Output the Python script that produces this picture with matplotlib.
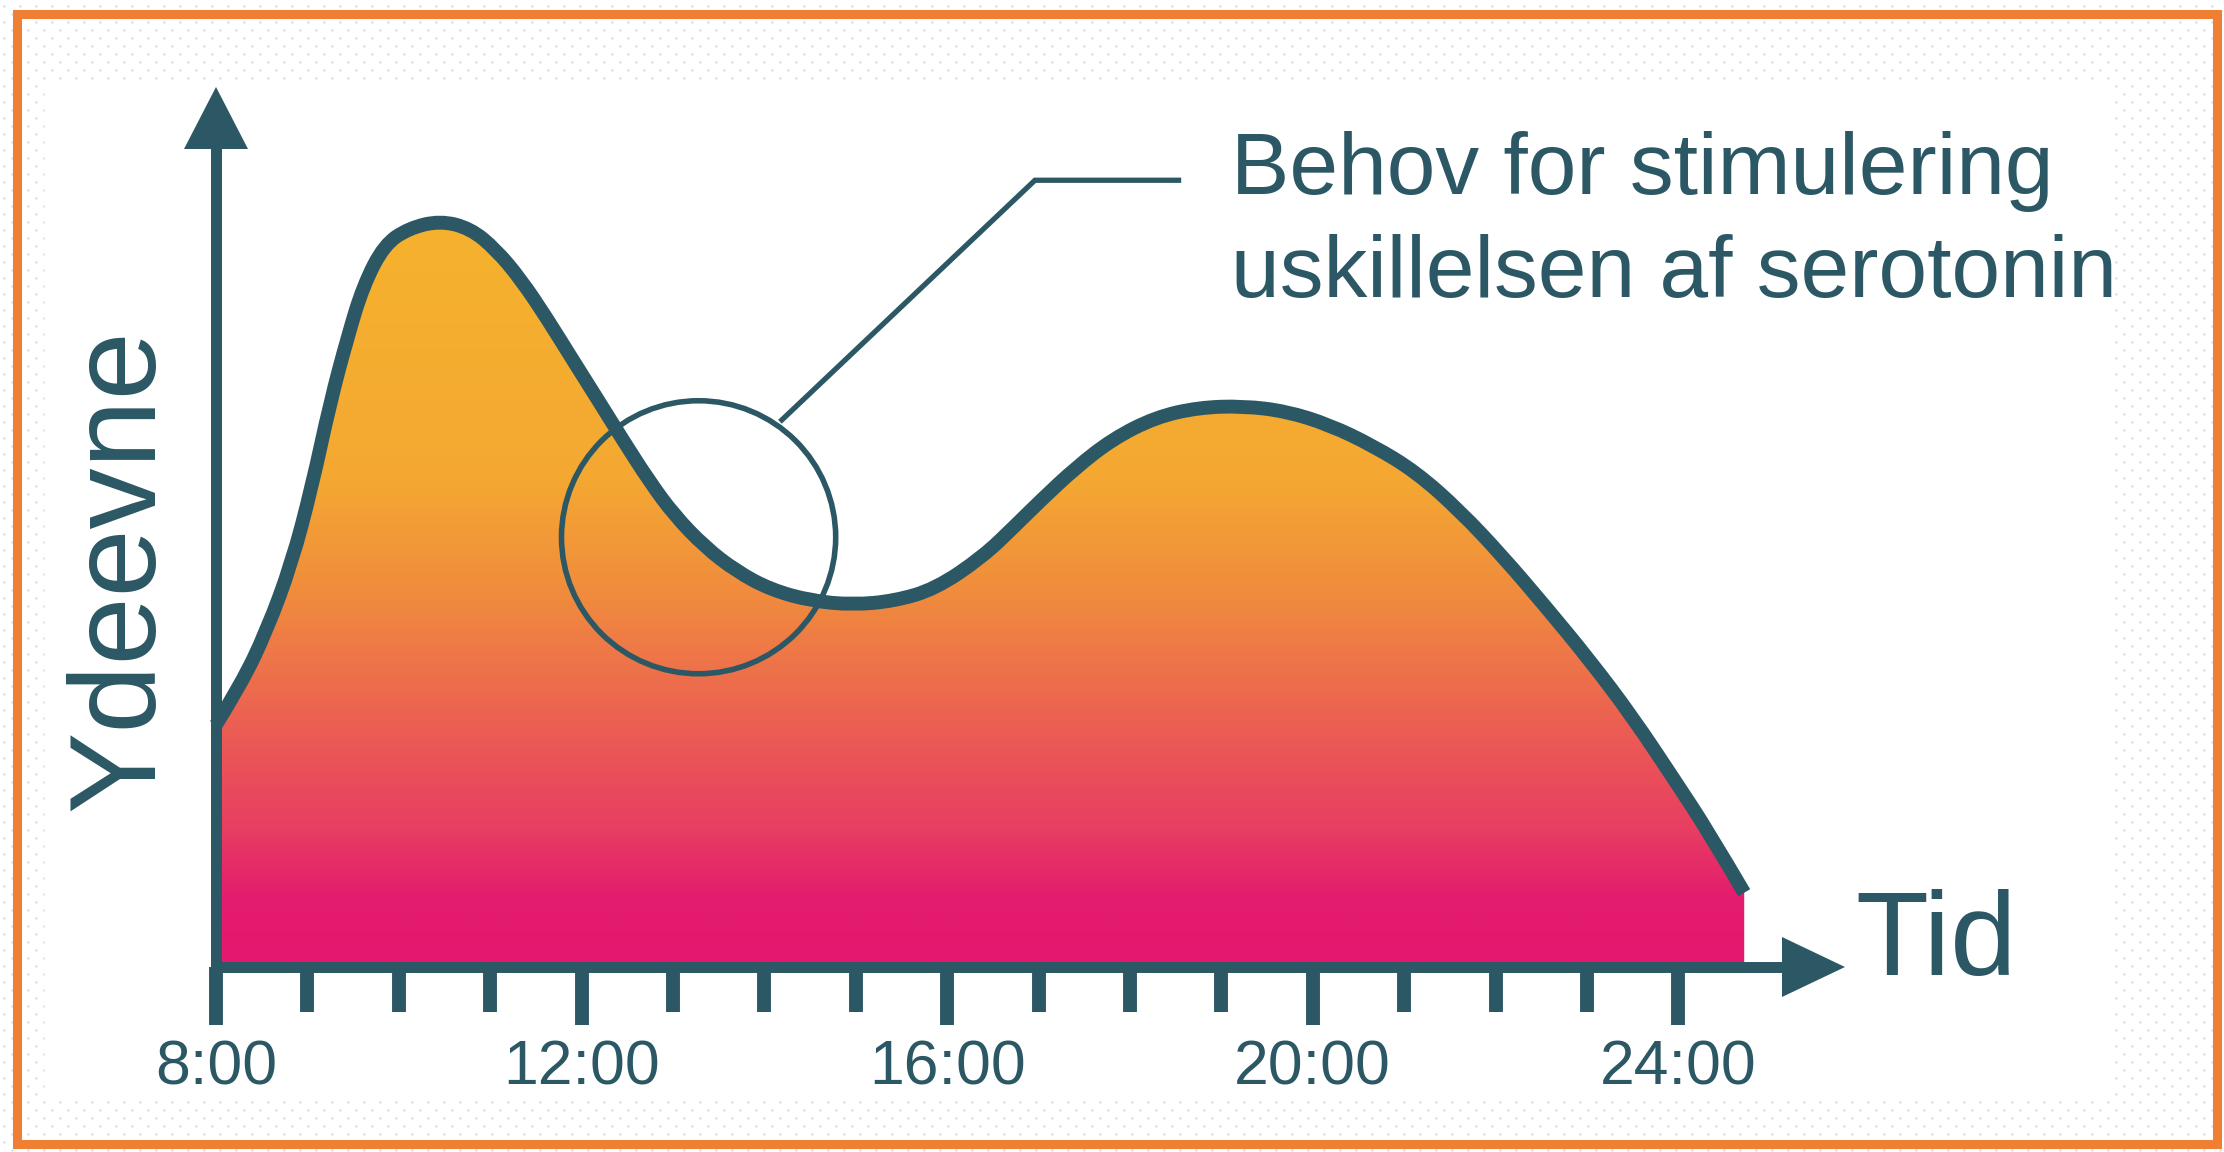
import numpy as np
import matplotlib
matplotlib.use('Agg')
import matplotlib.pyplot as plt
from matplotlib.colors import LinearSegmentedColormap
from matplotlib.patches import Polygon, Ellipse, Rectangle, PathPatch
from matplotlib.path import Path

plt.rcParams['font.family'] = ['Liberation Sans', 'DejaVu Sans']

# ---------------- data ----------------
hours = [8.00, 8.27, 8.55, 8.83, 9.05, 9.25, 9.44, 9.61, 9.84, 10.11, 10.45,
         10.78, 11.06, 11.34, 11.62, 11.89, 12.18, 12.45, 12.74, 13.01, 13.35,
         13.69, 14.07, 14.52, 14.97, 15.42, 15.87, 16.39, 16.74, 17.04, 17.40,
         17.81, 18.28, 18.75, 19.24, 19.71, 20.18, 20.66, 21.13, 21.61, 22.08,
         22.55, 23.03, 23.50, 23.97, 24.33, 24.72]
performance = [32.3, 37.6, 44.7, 53.9, 64.1, 75.3, 84.0, 90.8, 96.3, 98.5, 99.5,
               98.5, 95.7, 91.6, 86.5, 81.2, 75.6, 70.3, 64.8, 60.3, 56.0,
               52.8, 50.3, 48.8, 48.3, 48.8, 50.4, 54.7, 58.8, 62.4, 66.5,
               70.4, 73.3, 74.6, 74.8, 74.1, 72.3, 69.5, 66.0, 60.8, 54.7,
               48.0, 40.9, 33.3, 24.7, 18.0, 9.9]

major_hours = [8, 12, 16, 20, 24]
major_labels = ['8:00', '12:00', '16:00', '20:00', '24:00']
minor_hours = [9, 10, 11, 13, 14, 15, 17, 18, 19, 21, 22, 23]

x_label = 'Tid'
y_label = 'Ydeevne'
note_lines = ['Behov for stimulering', 'uskillelsen af serotonin']

# callout (circle + leader line) in data units
circle_center = (13.28, 57.3)
circle_size = (3.0, 36.4)
leader_h = [14.17, 16.96, 18.56]
leader_v = [72.7, 104.9, 104.9]
note_pos = [(19.10, 103.1), (19.10, 89.3)]

# ---------------- styles ----------------
TEAL = '#2b5864'
ORANGE_BORDER = '#ee7f33'
grad_stops = [(0.00, '#e4186f'), (0.09, '#e41c6e'), (0.18, '#e73d62'),
              (0.33, '#ec6152'), (0.49, '#f08a3e'), (0.65, '#f4a832'),
              (1.00, '#f6b22d')]
cmap = LinearSegmentedColormap.from_list('perf', grad_stops)

W, H = 2224, 1152
fig = plt.figure(figsize=(W / 100, H / 100), dpi=100)
fig.patch.set_facecolor('white')

# background: dotted paper, white picture, orange frame
bg = fig.add_axes([0, 0, 1, 1], zorder=0)
bg.set_xlim(0, W)
bg.set_ylim(H, 0)
bg.axis('off')
rows = np.arange(6, H, 8)
dx, dy = [], []
for i, yy in enumerate(rows):
    xs = np.arange(4 + (8 if i % 2 else 0), W, 16)
    dx.append(xs)
    dy.append(np.full(xs.shape, yy))
bg.scatter(np.concatenate(dx), np.concatenate(dy), s=3.2, color='#d3deeb', linewidths=0)
bg.add_patch(Rectangle((45, 80), 2112 - 45, 1098 - 80, facecolor='white', edgecolor='none'))
bg.add_patch(Rectangle((17, 14), 2200, 1130, fill=False, edgecolor=ORANGE_BORDER, lw=6.5))

# main axes placed where the chart axes are
AX_L, AX_R, AX_TOP, AX_BOT = 216, 1784, 147, 967
ax = fig.add_axes([AX_L / W, (H - AX_BOT) / H, (AX_R - AX_L) / W, (AX_BOT - AX_TOP) / H], zorder=1)
ax.set_facecolor('none')
ax.set_xlim(8, 8 + (AX_R - AX_L) / 91.4)
ax.set_ylim(0, (AX_BOT - AX_TOP) / 7.5)

# smooth curve path: data points used as quadratic Bezier control points
pts = np.column_stack([hours, performance])
verts = [tuple(pts[0])]
codes = [Path.MOVETO]
for i in range(1, len(pts) - 1):
    end = pts[-1] if i == len(pts) - 2 else (pts[i] + pts[i + 1]) / 2
    verts += [tuple(pts[i]), tuple(end)]
    codes += [Path.CURVE3, Path.CURVE3]
curve_path = Path(verts, codes)
area_path = Path(verts + [(hours[-1], 0), (hours[0], 0), verts[0]],
                 codes + [Path.LINETO, Path.LINETO, Path.CLOSEPOLY])

# gradient fill under the curve
grad = np.linspace(0, 101, 512).reshape(-1, 1)
im = ax.imshow(grad, extent=[hours[0], hours[-1], 0, 101], origin='lower',
               cmap=cmap, vmin=0, vmax=100, aspect='auto', interpolation='bilinear', zorder=1)
im.set_clip_path(area_path, ax.transData)

# curve
ax.add_patch(PathPatch(curve_path, facecolor='none', edgecolor=TEAL, lw=10,
                       capstyle='butt', joinstyle='round', zorder=3, clip_on=False))

# callout
ax.add_patch(Ellipse(circle_center, circle_size[0], circle_size[1], fill=False,
                     edgecolor=TEAL, lw=4, zorder=4, clip_on=False))
ax.plot(leader_h, leader_v, color=TEAL, lw=3.8, solid_joinstyle='miter',
        solid_capstyle='butt', zorder=4, clip_on=False)
for (hx, vy), line in zip(note_pos, note_lines):
    ax.text(hx, vy, line, fontsize=63, color=TEAL, ha='left', va='baseline', clip_on=False)

# axes lines and arrows
for side in ['top', 'right']:
    ax.spines[side].set_visible(False)
for side in ['left', 'bottom']:
    ax.spines[side].set_linewidth(7.9)
    ax.spines[side].set_color(TEAL)
    ax.spines[side].set_zorder(5)
axw, axh = AX_R - AX_L, AX_BOT - AX_TOP
ax.add_patch(Polygon([(-32 / axw, 1 - 2 / axh), (32 / axw, 1 - 2 / axh), (0, 1 + 60 / axh)],
                     closed=True, transform=ax.transAxes, facecolor=TEAL, edgecolor='none',
                     clip_on=False, zorder=5))
ax.add_patch(Polygon([(1 - 2 / axw, -30 / axh), (1 - 2 / axw, 30 / axh), (1 + 61 / axw, 0)],
                     closed=True, transform=ax.transAxes, facecolor=TEAL, edgecolor='none',
                     clip_on=False, zorder=5))

# ticks
ax.set_xticks(major_hours, major_labels)
ax.set_xticks(minor_hours, minor=True)
ax.tick_params(axis='x', which='major', direction='out', length=41.8, width=10,
               color=TEAL, pad=9.4, labelsize=45, labelcolor=TEAL)
ax.tick_params(axis='x', which='minor', direction='out', length=32.4, width=10, color=TEAL)
ax.tick_params(axis='y', left=False, labelleft=False)

# axis titles
ax.set_ylabel(y_label, fontsize=88, color=TEAL)
ax.yaxis.label.set_va('baseline')
ax.yaxis.set_label_coords(-63 / axw, (AX_BOT - 570) / axh)
ax.set_xlabel(x_label, fontsize=86, color=TEAL)
ax.xaxis.label.set_ha('left')
ax.xaxis.label.set_va('baseline')
ax.xaxis.set_label_coords((1855 - AX_L) / axw, (AX_BOT - 975) / axh)

fig.savefig('out.png', dpi=100, facecolor='white')
